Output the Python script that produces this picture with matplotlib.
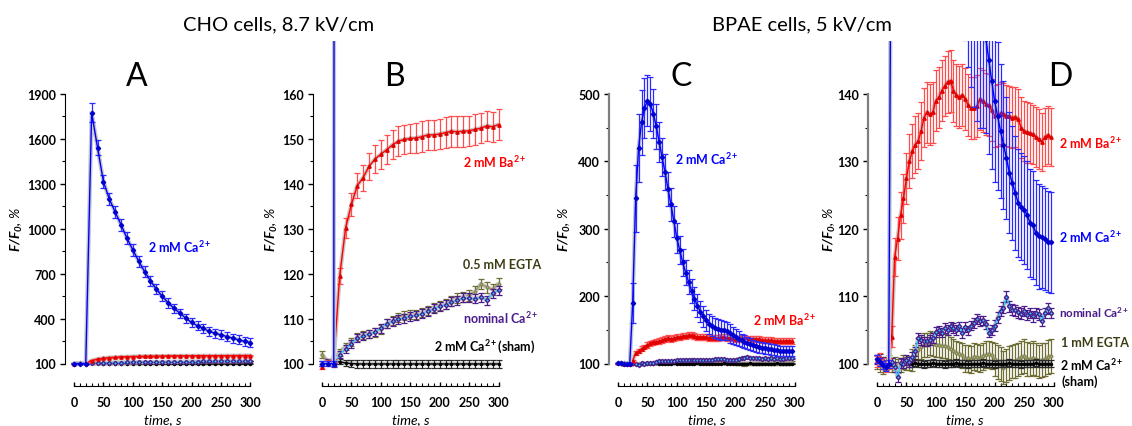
import numpy as np
import matplotlib
matplotlib.use('Agg')
import matplotlib.pyplot as plt
from matplotlib.ticker import FixedLocator

plt.rcParams['font.family'] = ['Lato', 'DejaVu Sans']
plt.rcParams['font.weight'] = 'bold'
plt.rcParams['mathtext.fontset'] = 'custom'
plt.rcParams['mathtext.rm'] = 'Lato:bold:italic'
plt.rcParams['mathtext.it'] = 'Lato:bold:italic'
plt.rcParams['mathtext.bf'] = 'Lato:bold'

nan = np.nan

# CHO cells (panels A and B), every 10 s
t_cho = np.arange(0, 301, 10)
ca_cho = [100, 100, 100, 1775, 1542, 1315, 1199, 1112, 1026, 937, 859, 783, 714, 652, 596, 549,
          505, 469, 436, 403, 374, 351, 334, 314, 302, 291, 280, 269, 258, 247, 240]
ca_cho_err = [0.5, 0.5, 0.5, 65, 48, 42, 40, 40, 40, 40, 40, 38, 36, 35, 33, 32,
              31, 31, 30, 30, 30, 30, 30, 30, 30, 30, 30, 30, 30, 30, 30]
ba_cho = [99.3, 100.3, 100.6, 119.4, 130.1, 135.4, 139.6, 141.4, 143.9, 145.5, 146.6, 147.6, 148.7,
          149.5, 149.9, 150.1, 150.2, 150.5, 150.9, 150.9, 151.1, 151.4, 151.7, 151.6, 151.7, 151.8,
          152.1, 152.4, 152.9, 152.7, 153.2]
ba_cho_err = [0.5, 0.5, 0.5, 1.8, 2.2, 2.5, 2.8, 2.9, 3.0, 3.1, 3.2, 3.2, 3.2, 3.3, 3.3, 3.3,
              3.3, 3.4, 3.4, 3.4, 3.4, 3.4, 3.4, 3.4, 3.4, 3.4, 3.4, 3.4, 3.4, 3.4, 3.4]
egta_cho = [102.0, 100.4, 101.0, 102.5, 103.8, 104.8, 105.8, 106.3, 106.6, 107.0, 107.6, 108.8,
            109.5, 110.3, 110.7, 110.8, 111.0, 111.3, 111.9, 112.5, 112.9, 113.3, 113.9, 114.6,
            114.8, 115.2, 116.0, 117.7, 117.0, 116.5, 117.8]
egta_cho_err = [0.8, 0.6, 0.6, 0.8, 0.8, 0.8, 0.9, 0.9, 0.9, 1.0, 1.0, 1.0, 1.0, 1.0, 1.0, 1.0,
                1.0, 1.0, 1.0, 1.0, 1.1, 1.1, 1.1, 1.1, 1.1, 1.2, 1.2, 1.2, 1.2, 1.2, 1.2]
nominal_cho = [100.0, 100.4, 99.7, 102.0, 103.3, 104.4, 105.6, 106.1, 106.5, 107.0, 107.8, 108.9,
               109.4, 109.9, 110.1, 110.5, 110.7, 111.1, 111.6, 112.2, 112.7, 113.1, 113.7, 114.1,
               114.6, 114.6, 114.4, 114.8, 114.1, 115.6, 116.3]
nominal_cho_err = [0.5, 0.5, 0.5, 0.8, 0.9, 0.9, 0.9, 0.9, 0.9, 0.9, 1.0, 1.0, 1.0, 1.0, 1.0, 1.0,
                   1.0, 1.0, 1.0, 1.0, 1.0, 1.0, 1.0, 1.0, 1.0, 1.0, 1.0, 1.0, 1.0, 1.0, 1.0]
sham_cho = [nan, nan, 100.3, 100.4, 100.1, 100.0, 99.9, 99.9, 99.9, 99.9, 99.9, 99.9, 99.9, 99.9,
            99.9, 99.9, 99.9, 99.9, 99.9, 99.9, 99.9, 99.9, 99.9, 99.9, 99.9, 99.9, 99.9, 99.9,
            99.9, 99.9, 99.9]
sham_cho_err = [nan, nan, 0.5, 0.6, 0.7, 0.8, 0.8, 0.8, 0.8, 0.8, 0.8, 0.8, 0.8, 0.8, 0.8, 0.8,
                0.8, 0.8, 0.8, 0.8, 0.8, 0.8, 0.8, 0.8, 0.8, 0.8, 0.8, 0.8, 0.8, 0.8, 0.8]

# BPAE cells (panels C and D), every 5 s
t_bpae = np.arange(0, 296, 5)
ca_bpae = [100.7, 100.2, 99.8, 99.5, 99.9, 190, 345, 420, 458, 479, 490, 485, 471, 452, 429, 406,
           384, 359, 336, 311, 286, 268, 250, 235, 221, 208, 196, 186, 177, 170, 164, 159, 156,
           153, 151, 150, 149, 148.2, 145.1, 141.9, 138.9, 136.7, 134.5, 132.5, 130.5, 128.3,
           126.8, 125.3, 123.8, 123.3, 122.8, 122.1, 120.9, 120.6, 119.4, 118.9, 118.8, 118.5,
           118.1, 118.0]
ca_bpae_err = [0.6, 0.6, 0.6, 0.6, 0.6, 30, 50, 50, 48, 45, 38, 40, 36, 33, 30, 28, 27, 25, 24, 23,
               22, 21, 20, 19, 18, 18, 17, 17, 16, 16, 16, 15, 15, 15, 15, 15, 14, 14, 14, 13,
               12, 11, 10, 9.5, 9, 9, 8.5, 8.5, 8, 8, 8, 8, 8, 8, 7.8, 7.8, 7.6, 7.6, 7.5, 7.5]
ba_bpae = [100.3, 100.8, 100.0, 99.6, 100.0, 104.0, 115.8, 118.5, 122.0, 124.5, 127.5, 130.0,
           131.5, 132.5, 133.0, 134.5, 136.5, 137.3, 137.0, 137.3, 139.0, 139.5, 140.5, 141.2,
           141.8, 142.0, 140.5, 139.8, 139.6, 139.8, 139.3, 138.3, 137.9, 137.9, 138.2, 139.2,
           139.0, 138.5, 138.3, 137.6, 136.8, 136.9, 137.2, 137.1, 136.8, 136.7, 136.5, 136.6,
           136.3, 135.0, 134.5, 134.3, 134.2, 134.0, 133.6, 133.3, 132.9, 133.6, 133.9, 133.6]
ba_bpae_err = [0.8, 0.8, 0.8, 0.8, 0.8, 1.5, 2.8, 3.2, 3.5, 3.6, 3.8, 4.0, 4.0, 4.2, 4.2, 4.3,
               4.4, 4.5, 4.5, 4.5, 4.5, 4.5, 4.5, 4.5, 4.6, 4.6, 4.6, 4.6, 4.6, 4.6, 4.6, 4.6,
               4.6, 4.6, 4.6, 4.6, 4.6, 4.6, 4.6, 4.6, 4.6, 4.6, 4.6, 4.6, 4.5, 4.5, 4.5, 4.5,
               4.5, 4.5, 4.5, 4.5, 4.4, 4.4, 4.4, 4.4, 4.3, 4.3, 4.3, 4.3]
nominal_bpae = [100.6, 100.8, 100.3, 99.8, 99.9, 100.2, 99.5, 98.0, 100.1, 100.0, 100.5, 100.2,
                101.0, 101.8, 103.8, 103.5, 103.3, 103.3, 103.5, 103.8, 104.7, 104.9, 104.6, 105.3,
                105.0, 105.5, 105.3, 105.0, 105.5, 104.5, 105.4, 104.9, 105.6, 106.0, 106.6, 106.3,
                106.4, 105.8, 104.6, 105.0, 105.6, 106.8, 107.8, 108.3, 109.9, 108.5, 108.0, 107.9,
                107.6, 107.4, 107.8, 107.2, 107.5, 107.0, 107.5, 107.3, 106.3, 107.5, 108.2, 107.5]
nominal_bpae_err = [0.6, 0.6, 0.6, 0.6, 0.6, 0.6, 0.7, 0.8, 0.7, 0.7, 0.7, 0.7, 0.7, 0.7, 0.7, 0.7,
                    0.7, 0.7, 0.7, 0.7, 0.7, 0.7, 0.7, 0.7, 0.7, 0.7, 0.7, 0.7, 0.7, 0.7, 0.7, 0.7,
                    0.7, 0.7, 0.7, 0.7, 0.7, 0.7, 0.7, 0.7, 0.8, 0.8, 0.8, 0.8, 0.8, 0.8, 0.8, 0.8,
                    0.8, 0.8, 0.8, 0.8, 0.8, 0.8, 0.8, 0.8, 0.8, 0.8, 0.8, 0.8]
egta_bpae = [100.2, 99.8, 99.5, 100.0, 100.3, 99.8, 100.0, 99.6, 99.8, 100.2, 100.0, 100.1, 100.5,
             101.2, 102.0, 102.5, 102.7, 102.8, 103.0, 102.9, 102.8, 102.7, 102.6, 102.6, 102.4,
             102.1, 101.9, 101.6, 101.4, 101.2, 100.7, 100.8, 100.6, 101.0, 100.9, 100.8, 101.1,
             101.3, 101.4, 101.2, 100.6, 100.2, 99.9, 99.4, 99.7, 100.1, 100.3, 100.4, 100.6,
             100.9, 101.1, 100.7, 100.6, 100.8, 100.6, 100.3, 100.5, 100.6, 101.0, 101.1]
egta_bpae_err = [1.0, 1.0, 1.0, 1.0, 1.0, 1.0, 1.0, 1.0, 1.0, 1.0, 1.0, 1.0, 1.6, 1.6, 1.8, 1.8,
                 1.8, 1.8, 1.8, 1.8, 1.8, 1.8, 1.8, 1.8, 1.8, 1.8, 1.8, 1.8, 1.8, 1.8, 2.0, 2.0,
                 2.0, 2.0, 2.0, 2.0, 2.0, 2.0, 2.0, 2.0, 2.5, 2.5, 2.5, 2.5, 2.5, 2.5, 2.5, 2.5,
                 2.5, 2.5, 2.5, 2.5, 2.5, 2.5, 2.5, 2.5, 2.5, 2.5, 2.5, 2.5]
sham_bpae = [nan, nan, nan, nan, nan, nan, nan, nan, nan, nan, nan, 100.0, 100.0, 100.1, 100.0,
             100.0, 99.9, 100.0, 100.0, 100.1, 100.0, 100.0, 100.0, 99.9, 100.0, 100.0, 100.0,
             100.1, 100.0, 100.0, 100.0, 99.9, 100.0, 100.0, 100.0, 100.0, 100.1, 100.0, 100.0,
             100.0, 99.9, 100.0, 100.0, 100.0, 100.0, 100.1, 100.0, 100.0, 100.0, 99.9, 100.0,
             100.0, 100.0, 100.0, 100.1, 100.0, 100.0, 100.0, 100.0, 100.0]
sham_bpae_err = [nan] * 11 + [0.5] * 49

styles = {
    'egta': dict(color='#9a9a66', ecolor='#6e6e34', marker='o', ms=1.8, mfc='#b8b890', mec='#8a8a55', z=2),
    'sham': dict(color='#000000', ecolor='#2a2a2a', marker='o', ms=1.5, mfc='#000000', mec='#000000', z=3),
    'nominal': dict(color='#33ccff', ecolor='#4b1d8c', marker='D', ms=2.2, mfc='#33ccff', mec='#4b1d8c', z=4),
    'ba': dict(color='#ff0000', ecolor='#ff4d4d', marker='^', ms=2.4, mfc='#e00000', mec='#e00000', z=5),
    'ca': dict(color='#0000ff', ecolor='#2a2aff', marker='D', ms=2.2, mfc='#0000d0', mec='#0000d0', z=6),
}

W, H = 1132, 427
fig = plt.figure(figsize=(W / 100, H / 100), dpi=100)


def panel(x0, ytop, ystep, gray_spine=False):
    sc = 176.5 / 300
    left = x0 - 15 * sc
    ax = fig.add_axes([left / W, (H - 387) / H, 325 * sc / W, 345 / H])
    ax.set_xlim(-15, 310)
    pp = (ytop - 100) / 269.5
    ax.set_ylim(100 - 22.5 * pp, ytop + 53 * pp)
    for s in ['top', 'right']:
        ax.spines[s].set_visible(False)
    ax.spines['left'].set_bounds(100, ytop)
    ax.spines['bottom'].set_bounds(0, 300)
    if gray_spine:
        ax.spines['left'].set_color('#7f7f7f')
        ax.spines['left'].set_linewidth(1.6)
    ax.xaxis.set_major_locator(FixedLocator(np.arange(0, 301, 50)))
    ax.xaxis.set_minor_locator(FixedLocator(np.arange(0, 301, 10)))
    ax.yaxis.set_major_locator(FixedLocator(np.arange(100, ytop + 1, ystep)))
    ax.yaxis.set_minor_locator(FixedLocator(np.arange(100 + ystep / 2, ytop, ystep)))
    ax.tick_params(axis='x', which='major', direction='in', length=3, width=1, pad=7, labelsize=9)
    ax.tick_params(axis='x', which='minor', direction='in', length=2, width=0.8)
    ax.tick_params(axis='y', which='major', direction='out', length=3.5, width=1, pad=3, labelsize=9)
    ax.tick_params(axis='y', which='minor', direction='out', length=2.5, width=0.8)
    ax.set_xlabel('time, s', fontsize=10, fontstyle='italic', va='center')
    ax.xaxis.set_label_coords(165 / 325, -33 / 345)
    return ax


def draw(ax, t, y, e, key):
    st = styles[key]
    # light grey halo behind each trace
    ax.plot(t, y, color='#c8c8c8', lw=3, solid_capstyle='round', zorder=st['z'] - 0.5)
    ax.errorbar(t, y, yerr=e, color=st['color'], ecolor=st['ecolor'], marker=st['marker'],
                ms=st['ms'], mfc=st['mfc'], mec=st['mec'], lw=1, elinewidth=0.9,
                capsize=2, capthick=0.9, zorder=st['z'])


axA = panel(74, 1900, 300)
axB = panel(322, 160, 10)
axC = panel(618, 500, 100, gray_spine=True)
axD = panel(877, 140, 10, gray_spine=True)

for ax in (axA, axB):
    draw(ax, t_cho, egta_cho, egta_cho_err, 'egta')
    draw(ax, t_cho, sham_cho, sham_cho_err, 'sham')
    draw(ax, t_cho, nominal_cho, nominal_cho_err, 'nominal')
    draw(ax, t_cho, ba_cho, ba_cho_err, 'ba')
    draw(ax, t_cho, ca_cho, ca_cho_err, 'ca')

for ax in (axC, axD):
    draw(ax, t_bpae, egta_bpae, egta_bpae_err, 'egta')
    draw(ax, t_bpae, sham_bpae, sham_bpae_err, 'sham')
    draw(ax, t_bpae, nominal_bpae, nominal_bpae_err, 'nominal')
    draw(ax, t_bpae, ba_bpae, ba_bpae_err, 'ba')
    draw(ax, t_bpae, ca_bpae, ca_bpae_err, 'ca')

# y labels, placed in pixels
for ax, lx in ((axA, 17), (axB, 272), (axC, 565), (axD, 830)):
    ax.set_ylabel('$F/F_{0}$, %', fontsize=10, fontstyle='italic', va='center')
    pos = ax.get_position()
    ax.yaxis.set_label_coords((lx / W - pos.x0) / pos.width, (387 - 230) / 345)


def ftext(x, y, s, **kw):
    fig.text(x / W, 1 - y / H, s, **kw)


ftext(279, 25, 'CHO cells, 8.7 kV/cm', fontsize=14.5, weight='normal', ha='center', va='center')
ftext(802, 25, 'BPAE cells, 5 kV/cm', fontsize=14.5, weight='normal', ha='center', va='center')
for x, letter in ((137, 'A'), (394, 'B'), (681, 'C'), (1060, 'D')):
    ftext(x, 77, letter, fontsize=23, weight='normal', ha='center', va='center')

sup = '$^{\\mathbf{2+}}$'
lab = dict(fontsize=9, ha='left', va='center')
ftext(148, 247, '2 mM Ca' + sup, color='#0000ff', **lab)
ftext(463, 162, '2 mM Ba' + sup, color='#ff0000', **lab)
ftext(463, 265, '0.5 mM EGTA', color='#3d3d14', **lab)
ftext(463, 318, 'nominal Ca' + sup, color='#4b1d8c', **lab)
ftext(434, 347, '2 mM Ca' + sup + '(sham)', color='#000000', **lab)
ftext(675, 159, '2 mM Ca' + sup, color='#0000ff', **lab)
ftext(753, 320, '2 mM Ba' + sup, color='#ff0000', **lab)
ftext(1059, 143, '2 mM Ba' + sup, color='#ff0000', **lab)
ftext(1059, 237, '2 mM Ca' + sup, color='#0000ff', **lab)
ftext(1059, 313, 'nominal Ca' + sup, color='#4b1d8c', fontsize=8.4, ha='left', va='center')
ftext(1061, 343, '1 mM EGTA', color='#3d3d14', **lab)
ftext(1060, 365, '2 mM Ca' + sup, color='#000000', **lab)
ftext(1061, 382, '(sham)', color='#000000', **lab)

fig.savefig('out.png', dpi=100)
